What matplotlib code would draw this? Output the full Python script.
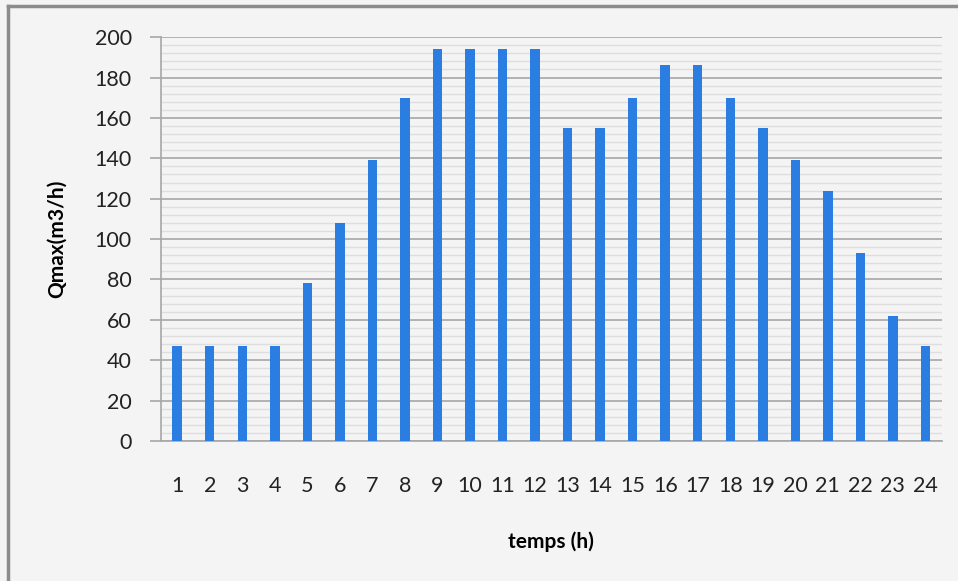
import numpy as np
import matplotlib.pyplot as plt
from matplotlib.ticker import MultipleLocator

plt.rcParams['font.family'] = ['Lato', 'DejaVu Sans']

# hours and max flow
hours = list(range(1, 25))
qmax = [47, 47, 47, 47, 78, 108, 139, 170, 194, 194, 194, 194,
        155, 155, 170, 186, 186, 170, 155, 139, 124, 93, 62, 47]

bg = '#f4f4f4'
fig = plt.figure(figsize=(9.58, 5.81), dpi=100, facecolor=bg)
ax = fig.add_axes([0.168, 0.241, 0.815, 0.695], facecolor=bg)

ax.bar(hours, qmax, width=0.29, color='#2a7de1', zorder=3)

ax.set_xlim(0.5, 24.5)
ax.set_ylim(0, 200)
ax.yaxis.set_major_locator(MultipleLocator(20))
ax.yaxis.set_minor_locator(MultipleLocator(4))
ax.set_xticks(hours)
ax.set_xticklabels([str(h) for h in hours])

ax.grid(axis='y', which='major', color='#a6a6a6', linewidth=1.2, zorder=1)
ax.grid(axis='y', which='minor', color='#dedede', linewidth=1.0, zorder=1)

for s in ['top', 'right']:
    ax.spines[s].set_visible(False)
ax.spines['left'].set_color('#a6a6a6')
ax.spines['bottom'].set_color('#a6a6a6')
ax.spines['left'].set_linewidth(1.2)
ax.spines['bottom'].set_linewidth(1.2)

ax.tick_params(axis='y', which='major', length=8, color='#a6a6a6', width=1.2,
               labelsize=15.5, pad=13, labelcolor='#222222')
ax.tick_params(axis='y', which='minor', length=0)
ax.tick_params(axis='x', length=0, labelsize=15.5, pad=25, labelcolor='#222222')

ax.set_ylabel('Qmax(m3/h)', fontsize=15, fontweight='bold', labelpad=20)
ax.set_xlabel('temps (h)', fontsize=15, fontweight='bold', labelpad=26)

# outer frame (top and left edges visible)
fig.add_artist(plt.Line2D([0.008, 1.0], [0.989, 0.989], color='#8c8c8c', linewidth=2.5,
                          transform=fig.transFigure))
fig.add_artist(plt.Line2D([0.008, 0.008], [0.0, 0.989], color='#8c8c8c', linewidth=2.5,
                          transform=fig.transFigure))

fig.savefig('out.png', dpi=100, facecolor=bg)
